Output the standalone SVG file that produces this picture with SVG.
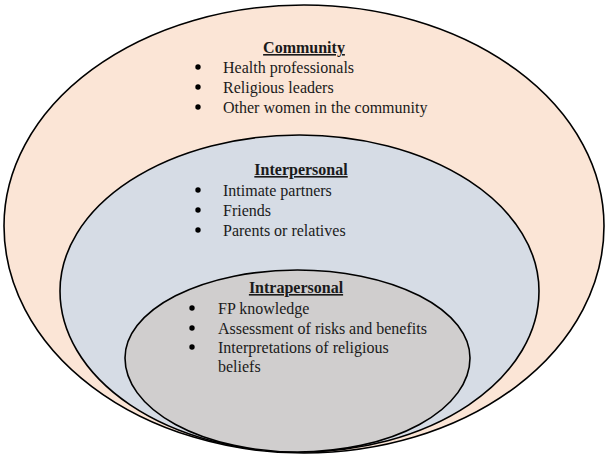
<svg xmlns="http://www.w3.org/2000/svg" width="608" height="457" viewBox="0 0 608 457">
<style>
.ring{stroke:#000;stroke-width:1.6}
.t{font-family:"Liberation Serif","Times New Roman",serif;font-size:16px;fill:#1a1a1a}
.h{font-weight:bold;text-decoration:underline;text-anchor:middle}
.b{fill:#000}
</style>
<rect width="608" height="457" fill="#ffffff"/>
<g id="community">
<path class="ring" fill="#FBE5D6" d="M4,226 A300,221 0 0 1 604,226 A300,227 0 0 1 4,226 Z"/>
<text class="t h" x="304" y="53">Community</text>
<circle class="b" cx="198" cy="67" r="2.7"/>
<circle class="b" cx="198" cy="87" r="2.7"/>
<circle class="b" cx="198" cy="107" r="2.7"/>
<text class="t" x="223" y="73">Health professionals</text>
<text class="t" x="223" y="93">Religious leaders</text>
<text class="t" x="223" y="113">Other women in the community</text>
</g>
<g id="interpersonal">
<path class="ring" fill="#D6DCE5" d="M60,291 A239.5,156 0 0 1 539,291 A239.5,161 0 0 1 60,291 Z"/>
<text class="t h" x="301" y="175">Interpersonal</text>
<circle class="b" cx="198" cy="190" r="2.7"/>
<circle class="b" cx="198" cy="210" r="2.7"/>
<circle class="b" cx="198" cy="230" r="2.7"/>
<text class="t" x="223" y="196">Intimate partners</text>
<text class="t" x="223" y="216">Friends</text>
<text class="t" x="223" y="236">Parents or relatives</text>
</g>
<g id="intrapersonal">
<path class="ring" fill="#D0CECE" d="M125,358 A172.5,88 0 0 1 470,358 A172.5,94 0 0 1 125,358 Z"/>
<text class="t h" x="296" y="293">Intrapersonal</text>
<circle class="b" cx="192" cy="308" r="2.7"/>
<circle class="b" cx="192" cy="328" r="2.7"/>
<circle class="b" cx="192" cy="347" r="2.7"/>
<text class="t" x="218" y="314">FP knowledge</text>
<text class="t" x="218" y="334">Assessment of risks and benefits</text>
<text class="t" x="218" y="353">Interpretations of religious</text>
<text class="t" x="218" y="372">beliefs</text>
</g>
<g id="connectors"/>
</svg>
